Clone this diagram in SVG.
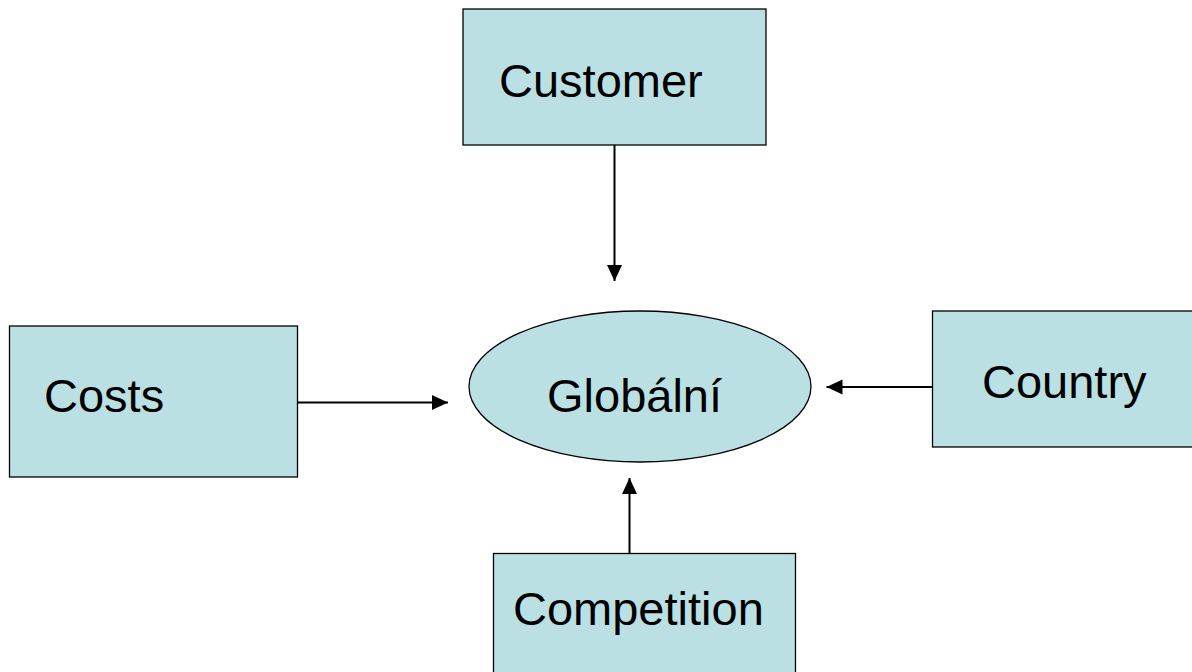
<svg xmlns="http://www.w3.org/2000/svg" width="1192" height="672" viewBox="0 0 1192 672">
<style>
.node{fill:#BBE0E3;stroke:#000;stroke-width:1.3}
.lbl{font-family:"Liberation Sans",Arial,sans-serif;font-size:47px;fill:#000}
.conn{stroke:#000;stroke-width:2;fill:none}
</style>
<defs>
<marker id="ah" markerUnits="userSpaceOnUse" markerWidth="16" markerHeight="16" viewBox="0 0 16 16" refX="16" refY="8" orient="auto">
<path d="M0,0.5 L16,8 L0,15.5 Z" fill="#000"/>
</marker>
</defs>
<rect width="1192" height="672" fill="#fff"/>
<g id="customer">
<rect class="node" x="463" y="9" width="303" height="136"/>
<text class="lbl" x="499" y="97">Customer</text>
</g>
<g id="costs">
<rect class="node" x="9.5" y="326" width="288" height="151"/>
<text class="lbl" x="44" y="412">Costs</text>
</g>
<g id="globalni">
<ellipse class="node" cx="640" cy="386.5" rx="171" ry="75.5"/>
<text class="lbl" x="547" y="412">Globální</text>
</g>
<g id="country">
<rect class="node" x="932.5" y="311" width="270" height="136"/>
<text class="lbl" x="982" y="398">Country</text>
</g>
<g id="competition">
<rect class="node" x="493.5" y="553.5" width="302" height="130"/>
<text class="lbl" x="513" y="625">Competition</text>
</g>
<g id="connectors">
<line class="conn" x1="614.5" y1="145" x2="614.5" y2="281" marker-end="url(#ah)"/>
<line class="conn" x1="297.5" y1="402.5" x2="448" y2="402.5" marker-end="url(#ah)"/>
<line class="conn" x1="932" y1="387" x2="826.5" y2="387" marker-end="url(#ah)"/>
<line class="conn" x1="629.5" y1="553" x2="629.5" y2="478" marker-end="url(#ah)"/>
</g>
</svg>
